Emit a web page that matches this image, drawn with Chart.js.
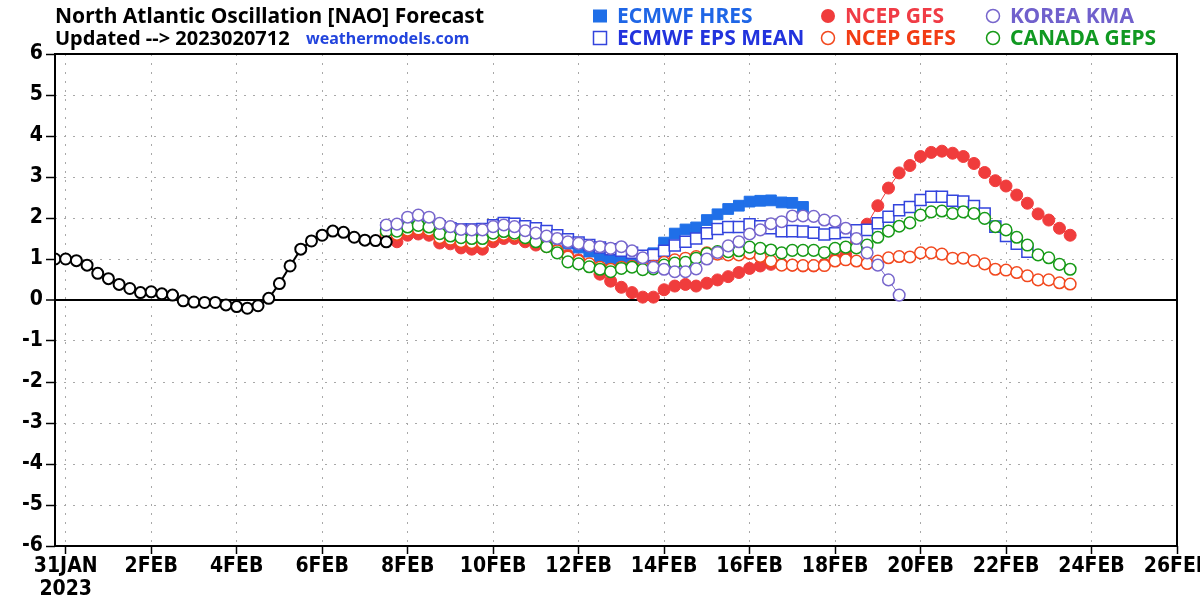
<!DOCTYPE html>
<html><head><meta charset="utf-8">
<script src="https://cdn.jsdelivr.net/npm/chart.js@4/dist/chart.umd.min.js"></script>
<style>html,body{margin:0;padding:0;background:#fff}#wrap{width:1200px;height:600px}</style>
</head><body><div id="wrap"><canvas id="c" width="1200" height="600"></canvas></div>
<script>
// ---- DATA (days since 31 JAN 2023 00Z, 6-hourly values) ----
const STEP_DAYS = 0.25;
const observedStart = -0.25;
const forecastStart = 7.5;

const observed = [1.0, 1.0, 0.96, 0.85, 0.65, 0.52, 0.38, 0.28, 0.18, 0.2, 0.15, 0.12, -0.02, -0.05, -0.06, -0.06,
  -0.12, -0.16, -0.2, -0.14, 0.04, 0.4, 0.83, 1.24, 1.44, 1.58, 1.68, 1.65, 1.53, 1.46, 1.45, 1.42];

const ecmwfHres = [1.75, 1.75, 1.82, 1.87, 1.85, 1.8, 1.75, 1.72, 1.72, 1.73, 1.82, 1.88, 1.86, 1.8, 1.72, 1.62,
  1.5, 1.38, 1.28, 1.18, 1.06, 0.98, 1.0, 0.97, 0.95, 1.14, 1.4, 1.62, 1.72, 1.77, 1.95, 2.09,
  2.22, 2.3, 2.4, 2.42, 2.43, 2.38, 2.37, 2.27];

const ecmwfEpsMean = [1.75, 1.75, 1.82, 1.87, 1.85, 1.8, 1.75, 1.72, 1.72, 1.73, 1.82, 1.88, 1.86, 1.8, 1.75, 1.68,
  1.58, 1.48, 1.4, 1.34, 1.28, 1.24, 1.2, 1.15, 1.08, 1.1, 1.2, 1.33, 1.42, 1.5, 1.63, 1.73,
  1.78, 1.78, 1.85, 1.8, 1.75, 1.68, 1.68, 1.67, 1.64, 1.6, 1.63, 1.66, 1.7, 1.71, 1.87, 2.03,
  2.19, 2.27, 2.44, 2.52, 2.52, 2.42, 2.4, 2.29, 2.11, 1.79, 1.56, 1.37, 1.18];

const ncepGfs = [1.44, 1.42, 1.58, 1.61, 1.58, 1.39, 1.37, 1.27, 1.24, 1.24, 1.42, 1.5, 1.5, 1.42, 1.34, 1.3,
  1.22, 1.1, 0.98, 0.82, 0.63, 0.46, 0.31, 0.18, 0.07, 0.07, 0.25, 0.34, 0.38, 0.34, 0.41, 0.49,
  0.57, 0.67, 0.77, 0.83, 0.87, 0.87, 0.85, 0.83, 0.83, 0.87, 1.0, 1.1, 1.4, 1.85, 2.3, 2.73,
  3.1, 3.28, 3.5, 3.6, 3.63, 3.58, 3.5, 3.33, 3.11, 2.91, 2.78, 2.56, 2.36, 2.1, 1.95, 1.75, 1.58];

const ncepGefs = [1.6, 1.6, 1.7, 1.73, 1.7, 1.52, 1.48, 1.42, 1.4, 1.4, 1.55, 1.6, 1.58, 1.5, 1.42, 1.32,
  1.2, 1.05, 0.95, 0.88, 0.8, 0.75, 0.8, 0.82, 0.8, 0.82, 0.92, 0.98, 1.02, 1.06, 1.15, 1.12,
  1.1, 1.1, 1.14, 1.06, 0.95, 0.85, 0.85, 0.84, 0.84, 0.84, 0.95, 0.98, 0.95, 0.89, 0.95, 1.03,
  1.06, 1.05, 1.15, 1.15, 1.12, 1.02, 1.02, 0.96, 0.88, 0.75, 0.73, 0.67, 0.59, 0.49, 0.49, 0.42, 0.39];

const koreaKma = [1.83, 1.85, 2.02, 2.07, 2.02, 1.87, 1.79, 1.72, 1.71, 1.71, 1.79, 1.83, 1.79, 1.69, 1.63, 1.56,
  1.5, 1.42, 1.38, 1.32, 1.3, 1.26, 1.3, 1.2, 1.03, 0.8, 0.75, 0.69, 0.69, 0.76, 1.0, 1.16,
  1.32, 1.42, 1.61, 1.71, 1.86, 1.91, 2.05, 2.05, 2.04, 1.95, 1.92, 1.75, 1.5, 1.15, 0.85, 0.49, 0.12];

const canadaGeps = [1.68, 1.68, 1.78, 1.82, 1.78, 1.62, 1.56, 1.52, 1.5, 1.5, 1.63, 1.67, 1.63, 1.52, 1.42, 1.3,
  1.15, 0.93, 0.88, 0.81, 0.75, 0.69, 0.77, 0.8, 0.74, 0.76, 0.85, 0.9, 0.92, 1.02, 1.13, 1.18,
  1.18, 1.2, 1.29, 1.26, 1.22, 1.15, 1.21, 1.21, 1.21, 1.16, 1.26, 1.29, 1.27, 1.34, 1.53, 1.68,
  1.8, 1.88, 2.07, 2.15, 2.17, 2.11, 2.15, 2.11, 1.99, 1.79, 1.71, 1.53, 1.34, 1.1, 1.03, 0.87, 0.75];

const xTickValues = [0, 2, 4, 6, 8, 10, 12, 14, 16, 18, 20, 22, 24, 26];
const xTickLabels = [['31JAN', '2023'], '2FEB', '4FEB', '6FEB', '8FEB', '10FEB', '12FEB', '14FEB', '16FEB', '18FEB', '20FEB', '22FEB', '24FEB', '26FEB'];
const yTickValues = [-6, -5, -4, -3, -2, -1, 0, 1, 2, 3, 4, 5, 6];
const yTickLabels = ['-6', '-5', '-4', '-3', '-2', '-1', '0', '1', '2', '3', '4', '5', '6'];

const titleText = 'North Atlantic Oscillation [NAO] Forecast';
const subtitleText = 'Updated --> 2023020712';
const sourceText = 'weathermodels.com';

// ---- helpers ----
function toPoints(start, arr) { return arr.map((v, i) => ({ x: start + i * STEP_DAYS, y: v })); }

const C = {
  hres: '#1f6fe8', eps: '#3344dd', gfs: '#f03c3c', gefs: '#f2481e', kma: '#7766cc', geps: '#169a16'
};
const tickFont = { family: "'DejaVu Sans Condensed', 'DejaVu Sans', sans-serif", size: 21, weight: 'bold', lineHeight: 1.1 };

const legendItems = [
  { text: 'ECMWF HRES', color: '#1f66e6', marker: 'filledRect', mcolor: C.hres, col: 0, row: 0 },
  { text: 'ECMWF EPS MEAN', color: '#2233dd', marker: 'openRect', mcolor: C.eps, col: 0, row: 1 },
  { text: 'NCEP GFS', color: '#f03c46', marker: 'filledCircle', mcolor: C.gfs, col: 1, row: 0 },
  { text: 'NCEP GEFS', color: '#f23c14', marker: 'openCircle', mcolor: C.gefs, col: 1, row: 1 },
  { text: 'KOREA KMA', color: '#7060cc', marker: 'openCircle', mcolor: C.kma, col: 2, row: 0 },
  { text: 'CANADA GEPS', color: '#119922', marker: 'openCircle', mcolor: C.geps, col: 2, row: 1 }
];

const headerPlugin = {
  id: 'header',
  afterDraw(chart) {
    const ctx = chart.ctx;
    const a = chart.chartArea;
    ctx.save();
    // frame
    ctx.strokeStyle = '#000'; ctx.lineWidth = 2;
    ctx.strokeRect(a.left, a.top, a.right - a.left, a.bottom - a.top);
    // title
    ctx.textBaseline = 'alphabetic'; ctx.textAlign = 'left';
    ctx.fillStyle = '#000';
    ctx.font = "bold 21px 'Noto Sans', sans-serif";
    ctx.fillText(titleText, 55, 23);
    ctx.font = "bold 20px 'Noto Sans', sans-serif";
    ctx.fillText(subtitleText, 55, 45);
    ctx.fillStyle = '#2244dd';
    ctx.font = "bold 16px 'Noto Sans', sans-serif";
    ctx.fillText(sourceText, 306, 44);
    // legend
    const colMarkerX = [600, 828, 993];
    const rowY = [16, 38];
    ctx.font = "bold 21px 'Noto Sans', sans-serif";
    ctx.textBaseline = 'middle';
    legendItems.forEach(it => {
      const mx = colMarkerX[it.col], my = rowY[it.row];
      ctx.lineWidth = 1.5;
      if (it.marker === 'filledRect') { ctx.fillStyle = it.mcolor; ctx.fillRect(mx - 7, my - 6.5, 14, 13); }
      else if (it.marker === 'openRect') { ctx.strokeStyle = it.mcolor; ctx.fillStyle = '#fff'; ctx.fillRect(mx - 6.5, my - 6.5, 13, 13); ctx.strokeRect(mx - 6.5, my - 6.5, 13, 13); }
      else if (it.marker === 'filledCircle') { ctx.fillStyle = it.mcolor; ctx.beginPath(); ctx.arc(mx, my, 7, 0, Math.PI * 2); ctx.fill(); }
      else { ctx.strokeStyle = it.mcolor; ctx.beginPath(); ctx.arc(mx, my, 6.5, 0, Math.PI * 2); ctx.stroke(); }
      ctx.fillStyle = it.color;
      ctx.fillText(it.text, mx + 17, my + 1);
    });
    ctx.restore();
  }
};

function seriesDataset(label, start, arr, opts) {
  return Object.assign({
    label, data: toPoints(start, arr), showLine: true, borderWidth: 1, pointHoverRadius: 0
  }, opts);
}

const datasets = [
  seriesDataset('Observed', observedStart, observed, { borderColor: '#000', borderWidth: 2, pointStyle: 'circle', pointRadius: 5.5, pointBorderWidth: 2, pointBorderColor: '#000', pointBackgroundColor: '#fff', order: 0 }),
  seriesDataset('KOREA KMA', forecastStart, koreaKma, { borderColor: C.kma, pointStyle: 'circle', pointRadius: 5.8, pointBorderWidth: 1.5, pointBorderColor: C.kma, pointBackgroundColor: '#fff', order: 1 }),
  seriesDataset('CANADA GEPS', forecastStart, canadaGeps, { borderColor: C.geps, pointStyle: 'circle', pointRadius: 5.8, pointBorderWidth: 1.5, pointBorderColor: C.geps, pointBackgroundColor: '#fff', order: 2 }),
  seriesDataset('NCEP GEFS', forecastStart, ncepGefs, { borderColor: C.gefs, pointStyle: 'circle', pointRadius: 5.8, pointBorderWidth: 1.5, pointBorderColor: C.gefs, pointBackgroundColor: '#fff', order: 3 }),
  seriesDataset('ECMWF EPS MEAN', forecastStart, ecmwfEpsMean, { borderColor: C.eps, pointStyle: 'rect', pointRadius: 7.8, pointBorderWidth: 1.5, pointBorderColor: C.eps, pointBackgroundColor: '#fff', order: 4 }),
  seriesDataset('ECMWF HRES', forecastStart, ecmwfHres, { borderColor: C.hres, pointStyle: 'rect', pointRadius: 7.6, pointBorderWidth: 1, pointBorderColor: C.hres, pointBackgroundColor: C.hres, order: 5 }),
  seriesDataset('NCEP GFS', forecastStart, ncepGfs, { borderColor: C.gfs, pointStyle: 'circle', pointRadius: 6, pointBorderWidth: 1, pointBorderColor: C.gfs, pointBackgroundColor: C.gfs, order: 6 })
];

const isZero = ctx => ctx.tick && ctx.tick.value === 0;

new Chart(document.getElementById('c'), {
  type: 'line',
  data: { datasets },
  options: {
    responsive: false, animation: false, devicePixelRatio: 1,
    layout: { padding: { left: 0, right: 23, top: 54, bottom: 0 } },
    plugins: { legend: { display: false }, tooltip: { enabled: false }, title: { display: false } },
    elements: { line: { tension: 0 } },
    scales: {
      x: {
        type: 'linear', min: -0.25, max: 26,
        afterBuildTicks: s => { s.ticks = xTickValues.map(v => ({ value: v })); },
        ticks: {
          autoSkip: false, maxRotation: 0, minRotation: 0, color: '#000', font: tickFont, padding: 1,
          callback: v => { const i = xTickValues.indexOf(v); return i >= 0 ? xTickLabels[i] : ''; }
        },
        grid: { color: '#a8a8a8', lineWidth: 1, tickLength: 8, tickColor: '#000', tickWidth: 1.5 },
        border: { display: false, dash: [2, 7] },
        afterFit: s => { s.height = 54; s.paddingLeft = 0; s.paddingRight = 0; }
      },
      y: {
        type: 'linear', min: -6, max: 6,
        afterBuildTicks: s => { s.ticks = yTickValues.map(v => ({ value: v })); },
        ticks: {
          color: '#000', font: tickFont, padding: 3,
          callback: v => { const i = yTickValues.indexOf(v); return i >= 0 ? yTickLabels[i] : ''; }
        },
        grid: {
          color: ctx => isZero(ctx) ? '#000' : '#a8a8a8',
          lineWidth: ctx => isZero(ctx) ? 2 : 1,
          tickLength: 9, tickColor: '#000', tickWidth: 1.5
        },
        border: { display: false, dash: ctx => isZero(ctx) ? [] : [2, 7] },
        afterFit: s => { s.width = 55; s.paddingTop = 0; s.paddingBottom = 0; }
      }
    }
  },
  plugins: [headerPlugin]
});
</script>
</body></html>
